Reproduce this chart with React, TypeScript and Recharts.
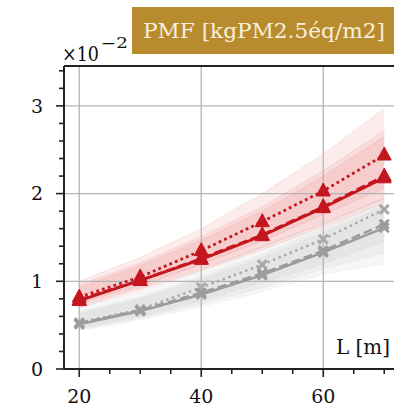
import React from 'react';
import { ComposedChart, Line, Area, XAxis, YAxis, ReferenceLine } from 'recharts';

const L = [20, 30, 40, 50, 60, 70];
const redDotted = [0.82, 1.05, 1.35, 1.68, 2.03, 2.44];
const redSolid = [0.78, 1.01, 1.25, 1.52, 1.84, 2.18];
const redDashed = [0.79, 1.01, 1.26, 1.53, 1.85, 2.2];
const grayDotted = [0.53, 0.68, 0.93, 1.19, 1.48, 1.82];
const graySolid = [0.51, 0.66, 0.85, 1.07, 1.33, 1.61];
const grayDashed = [0.52, 0.67, 0.87, 1.09, 1.35, 1.65];

const redHiA = [1.0, 1.27, 1.6, 2.0, 2.45, 2.97];
const redLoA = [0.75, 0.95, 1.19, 1.46, 1.76, 2.06];
const redHiB = [0.93, 1.18, 1.47, 1.8, 2.2, 2.65];
const redLoB = [0.7, 0.9, 1.12, 1.36, 1.62, 1.9];
const redHiC = [0.96, 1.21, 1.51, 1.85, 2.26, 2.72];
const redLoC = [0.72, 0.92, 1.14, 1.39, 1.66, 1.94];

const grayHiA = [0.71, 0.88, 1.13, 1.4, 1.66, 1.95];
const grayLoA = [0.47, 0.6, 0.78, 0.98, 1.2, 1.45];
const grayHiB = [0.63, 0.8, 1.02, 1.27, 1.55, 1.86];
const grayLoB = [0.44, 0.56, 0.71, 0.88, 1.08, 1.2];
const grayHiC = [0.65, 0.82, 1.05, 1.31, 1.6, 1.9];
const grayLoC = [0.45, 0.58, 0.74, 0.93, 1.14, 1.32];

const xTicks = [20, 25, 30, 35, 40, 45, 50, 55, 60, 65, 70];
const xMajor = [20, 40, 60];
const yTicks = [0, 0.2, 0.4, 0.6, 0.8, 1, 1.2, 1.4, 1.6, 1.8, 2, 2.2, 2.4, 2.6, 2.8, 3, 3.2, 3.4];
const yMajor = [0, 1, 2, 3];
const yTop = 3.455;

const data = L.map((l, i) => ({
  L: l,
  redDotted: redDotted[i],
  redSolid: redSolid[i],
  redDashed: redDashed[i],
  grayDotted: grayDotted[i],
  graySolid: graySolid[i],
  grayDashed: grayDashed[i],
  redA: [redLoA[i], redHiA[i]],
  redB: [redLoB[i], redHiB[i]],
  redC: [redLoC[i], redHiC[i]],
  grayA: [grayLoA[i], grayHiA[i]],
  grayB: [grayLoB[i], grayHiB[i]],
  grayC: [grayLoC[i], grayHiC[i]],
}));

const FONT = 'DejaVu Serif';
const RED = '#c3161e';
const GRAY = '#9c9c9c';
const GRAY_LIGHT = '#a9a9a9';
const AXIS = '#222';

const YTick = (props: any) => {
  const { x, y, payload } = props;
  const v = payload.value;
  const major = yMajor.some((m) => Math.abs(m - v) < 1e-6);
  return (
    <g>
      <line x1={x} x2={x - (major ? 8 : 5)} y1={y} y2={y} stroke={AXIS} strokeWidth={1.6} />
      {major && (
        <text x={x - 21} y={y} dy="0.36em" textAnchor="end" fontFamily={FONT} fontSize={19} fill="#111">
          {Math.round(v)}
        </text>
      )}
    </g>
  );
};

const XTick = (props: any) => {
  const { x, y, payload } = props;
  const v = payload.value;
  const major = xMajor.includes(v);
  return (
    <g>
      <line x1={x} x2={x} y1={y} y2={y + (major ? 8 : 5)} stroke={AXIS} strokeWidth={1.6} />
      {major && (
        <text x={x} y={y + 34} textAnchor="middle" fontFamily={FONT} fontSize={19} fill="#111">
          {v}
        </text>
      )}
    </g>
  );
};

const triangle = (color: string) => (props: any) => {
  const { cx, cy, index } = props;
  if (cx == null || cy == null) return <g key={index} />;
  return (
    <path
      key={index}
      d={`M${cx},${cy - 8} L${cx - 7},${cy + 5} L${cx + 7},${cy + 5} Z`}
      fill={color}
      stroke={color}
      strokeWidth={1}
    />
  );
};

const cross = (color: string) => (props: any) => {
  const { cx, cy, index } = props;
  if (cx == null || cy == null) return <g key={index} />;
  const s = 4.5;
  return (
    <path
      key={index}
      d={`M${cx - s},${cy - s} L${cx + s},${cy + s} M${cx - s},${cy + s} L${cx + s},${cy - s}`}
      stroke={color}
      strokeWidth={3}
      fill="none"
    />
  );
};

export default function App() {
  return (
    <div style={{ position: 'absolute', left: 0, top: 0, width: 394, height: 409, overflow: 'hidden', background: '#fff' }}>
      <ComposedChart
        width={412}
        height={409}
        data={data}
        margin={{ top: 66, right: 12.5, bottom: 0, left: 0 }}
      >
        <XAxis
          dataKey="L"
          type="number"
          domain={[17.5, 72.5]}
          ticks={xTicks}
          interval={0}
          height={40}
          tickSize={0}
          tickMargin={0}
          tickLine={false}
          axisLine={{ stroke: AXIS, strokeWidth: 2 }}
          tick={<XTick />}
          allowDataOverflow
        />
        <YAxis
          type="number"
          domain={[0, yTop]}
          ticks={yTicks}
          interval={0}
          width={64}
          tickSize={0}
          tickMargin={0}
          tickLine={false}
          axisLine={{ stroke: AXIS, strokeWidth: 2 }}
          tick={<YTick />}
          allowDataOverflow
        />
        {xMajor.map((v) => (
          <ReferenceLine key={'gx' + v} x={v} stroke="#b5b5b5" strokeWidth={1.3} />
        ))}
        {yMajor.slice(1).map((v) => (
          <ReferenceLine key={'gy' + v} y={v} stroke="#b5b5b5" strokeWidth={1.3} />
        ))}
        <ReferenceLine y={yTop} stroke={AXIS} strokeWidth={2} />

        <Area dataKey="grayA" type="linear" stroke={GRAY} strokeOpacity={0.08} fill={GRAY} fillOpacity={0.09} isAnimationActive={false} dot={false} activeDot={false} />
        <Area dataKey="grayB" type="linear" stroke={GRAY} strokeOpacity={0.08} fill={GRAY} fillOpacity={0.09} isAnimationActive={false} dot={false} activeDot={false} />
        <Area dataKey="grayC" type="linear" stroke={GRAY} strokeOpacity={0.08} fill={GRAY} fillOpacity={0.09} isAnimationActive={false} dot={false} activeDot={false} />
        <Area dataKey="redA" type="linear" stroke="#e26a6e" strokeOpacity={0.15} fill="#e46c70" fillOpacity={0.13} isAnimationActive={false} dot={false} activeDot={false} />
        <Area dataKey="redB" type="linear" stroke="#e26a6e" strokeOpacity={0.15} fill="#e46c70" fillOpacity={0.13} isAnimationActive={false} dot={false} activeDot={false} />
        <Area dataKey="redC" type="linear" stroke="#e26a6e" strokeOpacity={0.15} fill="#e46c70" fillOpacity={0.13} isAnimationActive={false} dot={false} activeDot={false} />

        <Line dataKey="grayDotted" type="linear" stroke={GRAY_LIGHT} strokeWidth={2.5} strokeDasharray="2.5 3.5" dot={cross(GRAY_LIGHT)} activeDot={false} isAnimationActive={false} />
        <Line dataKey="grayDashed" type="linear" stroke={GRAY} strokeWidth={2.5} strokeDasharray="9 4" dot={cross(GRAY)} activeDot={false} isAnimationActive={false} />
        <Line dataKey="graySolid" type="linear" stroke={GRAY} strokeWidth={2.5} dot={cross(GRAY)} activeDot={false} isAnimationActive={false} />
        <Line dataKey="redDotted" type="linear" stroke={RED} strokeWidth={2.8} strokeDasharray="2.8 3.2" dot={triangle(RED)} activeDot={false} isAnimationActive={false} />
        <Line dataKey="redDashed" type="linear" stroke={RED} strokeWidth={2.8} strokeDasharray="9 4" dot={triangle(RED)} activeDot={false} isAnimationActive={false} />
        <Line dataKey="redSolid" type="linear" stroke={RED} strokeWidth={2.8} dot={triangle(RED)} activeDot={false} isAnimationActive={false} />
      </ComposedChart>
      <svg width={394} height={409} style={{ position: 'absolute', left: 0, top: 0, pointerEvents: 'none' }}>
        <rect x={132} y={7} width={270} height={47} fill="#b98b2f" />
        <text x={143} y={38} fontFamily={FONT} fontSize={21} fill="#f6f0dc" textLength={242} lengthAdjust="spacingAndGlyphs">
          PMF [kgPM2.5éq/m2]
        </text>
        <text x={62} y={61} fontFamily={FONT} fontSize={20} fill="#111" textLength={37} lengthAdjust="spacingAndGlyphs">×10</text>
        <text x={101} y={48} fontFamily={FONT} fontSize={14} fill="#111" textLength={27} lengthAdjust="spacingAndGlyphs">−2</text>
        <text x={336} y={354} fontFamily={FONT} fontSize={20} fill="#111" textLength={54} lengthAdjust="spacingAndGlyphs">L [m]</text>
      </svg>
    </div>
  );
}
